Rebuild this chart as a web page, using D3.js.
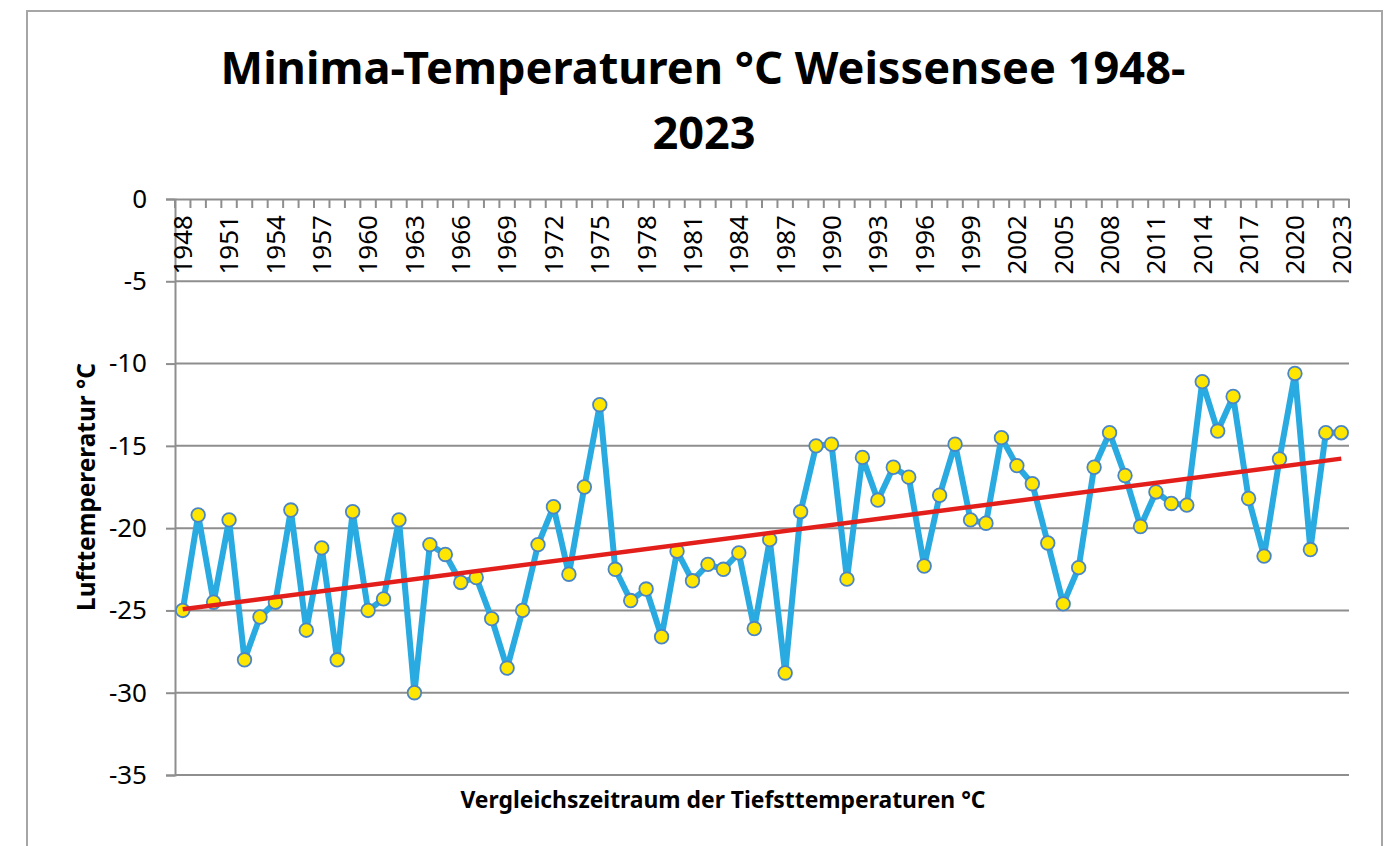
<!DOCTYPE html>
<html>
<head>
<meta charset="utf-8">
<script src="https://cdn.jsdelivr.net/npm/d3@7"></script>
<style>
  body { margin: 0; background: #fff; }
  svg { display: block; font-family: 'Noto Sans', sans-serif; }
</style>
</head>
<body>
<svg id="chart"></svg>
<script>
// categories (years) and the yearly minimum temperatures
const years = d3.range(1948, 2024);
const minTemps = [
  -25.0, -19.2, -24.5, -19.5, -28.0, -25.4, -24.5, -18.9, -26.2, -21.2, -28.0, -19.0,
  -25.0, -24.3, -19.5, -30.0, -21.0, -21.6, -23.3, -23.0, -25.5, -28.5,
  -25.0, -21.0, -18.7, -22.8, -17.5, -12.5, -22.5, -24.4, -23.7, -26.6,
  -21.4, -23.2, -22.2, -22.5, -21.5, -26.1, -20.7, -28.8, -19.0, -15.0,
  -14.9, -23.1, -15.7, -18.3, -16.3, -16.9, -22.3, -18.0, -14.9, -19.5,
  -19.7, -14.5, -16.2, -17.3, -20.9, -24.6, -22.4, -16.3, -14.2, -16.8,
  -19.9, -17.8, -18.5, -18.6, -11.1, -14.1, -12.0, -18.2, -21.7, -15.8,
  -10.6, -21.3, -14.2, -14.2
];
const xTickLabels = [1948, 1951, 1954, 1957, 1960, 1963, 1966, 1969, 1972, 1975, 1978,
  1981, 1984, 1987, 1990, 1993, 1996, 1999, 2002, 2005, 2008, 2011, 2014, 2017, 2020, 2023];
const yTicks = [0, -5, -10, -15, -20, -25, -30, -35];

const W = 1392, H = 846;
const plotLeft = 175, plotRight = 1349, plotTop = 199, plotBottom = 775;
const gridColor = '#8e8e8e';

const data = years.map((yr, i) => ({ year: yr, value: minTemps[i] }));

const svg = d3.select('#chart').attr('width', W).attr('height', H);

// chart border
svg.append('rect')
  .attr('x', 27).attr('y', 11)
  .attr('width', 1355).attr('height', 860)
  .attr('fill', 'none')
  .attr('stroke', '#a6a6a6')
  .attr('stroke-width', 2);

const x = d3.scaleBand().domain(years).range([plotLeft, plotRight]);
const y = d3.scaleLinear().domain([-35, 0]).range([plotBottom, plotTop]);
const cx = (d) => x(d) + x.bandwidth() / 2;

// horizontal gridlines + y axis
const yAxis = d3.axisLeft(y)
  .tickValues(yTicks)
  .tickFormat((d) => String(d))
  .tickSize(9)
  .tickPadding(19);
const gy = svg.append('g')
  .attr('transform', `translate(${plotLeft},0)`)
  .call(yAxis);
gy.select('.domain').attr('stroke', gridColor).attr('stroke-width', 2);
gy.selectAll('.tick line').attr('stroke', gridColor).attr('stroke-width', 2);
gy.selectAll('.tick text')
  .attr('font-size', 26)
  .attr('font-family', 'Noto Sans')
  .attr('fill', '#000');

svg.append('g')
  .selectAll('line')
  .data(yTicks.filter((t) => t !== 0))
  .enter()
  .append('line')
  .attr('x1', plotLeft).attr('x2', plotRight)
  .attr('y1', (d) => y(d)).attr('y2', (d) => y(d))
  .attr('stroke', gridColor)
  .attr('stroke-width', 2);

// category axis sits at the top (value 0)
const xAxis = d3.axisBottom(x).tickValues(xTickLabels).tickSize(0).tickPadding(0);
const gx = svg.append('g')
  .attr('transform', `translate(0,${y(0)})`)
  .call(xAxis);
gx.select('.domain').attr('stroke', gridColor).attr('stroke-width', 2);
gx.selectAll('.tick text')
  .attr('font-size', 26)
  .attr('font-family', 'Noto Sans')
  .attr('fill', '#000')
  .attr('text-anchor', 'end')
  .attr('transform', 'rotate(-90)')
  .attr('x', -16)
  .attr('y', 0)
  .attr('dy', '0.36em');

// tick marks between categories
const bounds = years.map((yr) => x(yr)).concat([plotRight]);
svg.append('g')
  .selectAll('line')
  .data(bounds)
  .enter()
  .append('line')
  .attr('x1', (d) => d).attr('x2', (d) => d)
  .attr('y1', y(0)).attr('y2', y(0) + 9)
  .attr('stroke', gridColor)
  .attr('stroke-width', 2);

// data line
const line = d3.line().x((d) => cx(d.year)).y((d) => y(d.value));
svg.append('path')
  .datum(data)
  .attr('d', line)
  .attr('fill', 'none')
  .attr('stroke', '#29abe2')
  .attr('stroke-width', 6)
  .attr('stroke-linejoin', 'round');

// linear trend line (least squares)
const n = data.length;
const mx = d3.mean(data, (d) => d.year);
const my = d3.mean(data, (d) => d.value);
const slope = d3.sum(data, (d) => (d.year - mx) * (d.value - my)) /
  d3.sum(data, (d) => (d.year - mx) * (d.year - mx));
const icpt = my - slope * mx;
const trend = [years[0], years[n - 1]].map((yr) => ({ year: yr, value: icpt + slope * yr }));

// markers
svg.append('g')
  .selectAll('circle')
  .data(data)
  .enter()
  .append('circle')
  .attr('cx', (d) => cx(d.year))
  .attr('cy', (d) => y(d.value))
  .attr('r', 6.8)
  .attr('fill', '#ffe600')
  .attr('stroke', '#4a86c5')
  .attr('stroke-width', 1.8);

svg.append('path')
  .datum(trend)
  .attr('d', line)
  .attr('fill', 'none')
  .attr('stroke', '#e31f1c')
  .attr('stroke-width', 4.5);

// helper: shrink/grow a text so it spans a given width
function fitWidth(sel, target) {
  const size = +sel.attr('font-size');
  const w = sel.node().getComputedTextLength();
  sel.attr('font-size', (size * target / w).toFixed(2));
}

// titles
const t1 = svg.append('text')
  .attr('x', 703).attr('y', 84)
  .attr('text-anchor', 'middle')
  .attr('font-weight', 'bold')
  .attr('font-size', 44)
  .text('Minima-Temperaturen °C Weissensee 1948-');
fitWidth(t1, 965);
svg.append('text')
  .attr('x', 704).attr('y', 149)
  .attr('text-anchor', 'middle')
  .attr('font-weight', 'bold')
  .attr('font-size', t1.attr('font-size'))
  .text('2023');

const xt = svg.append('text')
  .attr('x', 723).attr('y', 808)
  .attr('text-anchor', 'middle')
  .attr('font-weight', 'bold')
  .attr('font-size', 25)
  .text('Vergleichszeitraum der Tiefsttemperaturen °C');
fitWidth(xt, 525);

const yt = svg.append('text')
  .attr('transform', `translate(95,${(plotTop + plotBottom) / 2}) rotate(-90)`)
  .attr('text-anchor', 'middle')
  .attr('font-weight', 'bold')
  .attr('font-size', 22)
  .text('Lufttempereratur °C');
fitWidth(yt, 248);
</script>
</body>
</html>
